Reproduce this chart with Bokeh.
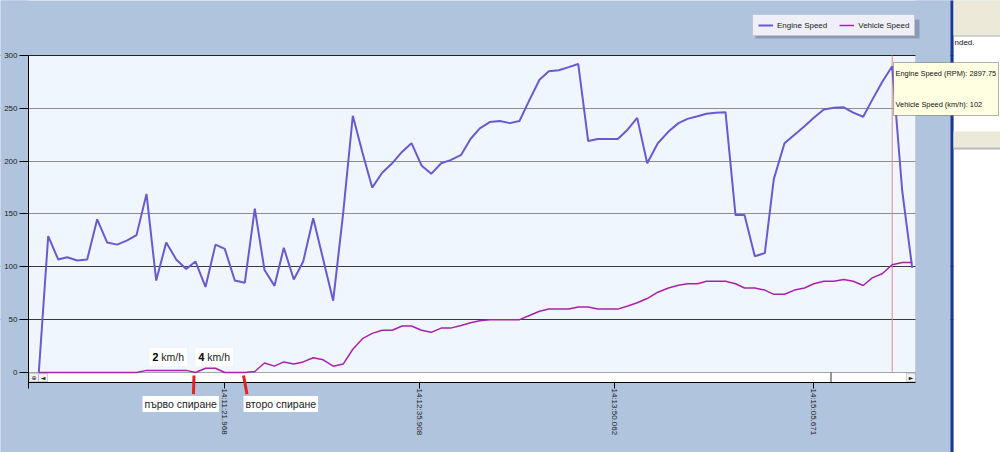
import math
from bokeh.plotting import figure
from bokeh.models import Range1d, FixedTicker, Grid, BoxAnnotation, Label, Arrow
from bokeh.embed import file_html
from bokeh.resources import INLINE

# ---------------- data ----------------
# sample time in seconds after 14:10:00
time_s = [11.44, 15.01, 18.81, 22.23, 26.03, 29.82, 33.62, 37.42, 41.22, 45.02,
          48.55, 52.35, 56.03, 59.83, 63.63, 67.42, 70.96, 74.75, 78.55, 82.08,
          85.88, 89.68, 93.48, 97.16, 100.96, 104.49, 108.29, 111.86, 115.66, 119.46,
          123.25, 127.05, 130.70, 134.38, 138.07, 141.86, 145.66, 149.46, 152.99, 156.79,
          160.47, 164.27, 167.80, 171.87, 175.40, 178.93, 182.73, 186.53, 190.33, 194.01,
          197.81, 201.61, 205.14, 208.94, 212.73, 216.31, 220.10, 223.75, 227.55, 231.35,
          235.14, 238.71, 242.51, 246.54, 250.60, 254.40, 257.82, 261.62, 265.03, 268.45,
          272.25, 276.05, 279.47, 283.38, 287.18, 290.59, 294.66, 298.46, 302.25, 305.79,
          309.58, 313.38, 317.18, 320.75, 324.55, 327.97, 331.76, 335.56, 339.36, 343.16]

# engine speed (RPM / 10)
engine_speed = [0, 129, 107, 109, 106, 107, 145, 123, 121, 125,
                130, 169, 87, 123, 107, 98, 105, 81, 121, 117,
                87, 85, 155, 97, 82, 118, 88, 105, 146, 107,
                68, 151, 243, 208, 175, 189, 198, 209, 217, 196,
                188, 198, 201, 206, 221, 231, 237, 238, 236, 238,
                258, 277, 285, 286, 289, 292, 219, 221, 221, 221,
                230, 241, 198, 217, 228, 236, 240, 242.5, 244.8, 245.8,
                246.4, 149, 149, 110, 113, 183, 217, 225, 233, 241,
                249, 250.5, 251, 246, 242, 258, 275, 289.775, 172, 99]

# vehicle speed (km/h)
vehicle_speed = [0, 0, 0, 0, 0, 0, 0, 0, 0, 0,
                 0, 2, 2, 2, 2, 2, 0, 4, 4, 0,
                 0, 0, 1, 9, 6, 10, 8, 10, 14, 12,
                 6, 8, 22, 32, 37, 40, 40, 44, 44, 40,
                 38, 42, 42, 44.5, 47, 49, 50, 50, 50, 50,
                 54, 58, 60, 60, 60, 62, 62, 60, 60, 60,
                 63, 66, 70, 76, 80, 82.5, 84, 84, 86.4, 86.4,
                 86.4, 84, 80, 80, 78, 74, 74, 78, 80, 84,
                 86.4, 86.4, 88, 86.4, 82.3, 89.6, 93.4, 102, 104, 104]

tick_times = [81.968, 155.908, 230.062, 305.671]
tick_labels = ["14:11:21.968", "14:12:35.908", "14:13:50.062", "14:15:05.671"]
y_ticks = [0, 50, 100, 150, 200, 250, 300]
light_grid = [150, 200, 250]
dark_grid = [50, 100]
cursor_index = 87

# visible window of the chart (time range and value range of the plot area)
plot_t0, plot_t1 = 7.524, 344.41
plot_v0, plot_v1 = -9.46, 300

FONT = "Liberation Sans"
PANEL = "#B0C4DE"

p = figure(width=1000, height=452, output_backend="svg", toolbar_location=None,
           x_range=Range1d(-3.107, 376.694), y_range=Range1d(-75.71, 352.05),
           min_border_left=0, min_border_right=0, min_border_top=0, min_border_bottom=0,
           background_fill_color=PANEL, border_fill_color=PANEL, outline_line_color=None)

# ---- axes (fixed inside the canvas) ----
p.xaxis.fixed_location = plot_v0
p.xaxis.bounds = (plot_t0, plot_t1)
p.xaxis.ticker = FixedTicker(ticks=tick_times)
p.xaxis.major_label_overrides = dict(zip(tick_times, tick_labels))
p.xaxis.major_label_orientation = -math.pi / 2
p.xaxis.major_tick_out = 6
p.xaxis.major_tick_in = 0
p.xaxis.minor_tick_out = 0
p.xaxis.minor_tick_in = 0
p.xaxis.major_label_standoff = 0
p.xaxis.axis_line_color = "black"
p.xaxis.major_tick_line_color = "black"
p.xaxis.major_label_text_font = FONT
p.xaxis.major_label_text_font_size = "8px"
p.xaxis.major_label_text_color = "#222222"

p.yaxis.fixed_location = plot_t0
p.yaxis.bounds = (-15.1, plot_v1)
p.yaxis.ticker = FixedTicker(ticks=y_ticks)
p.yaxis.major_tick_out = 9
p.yaxis.major_tick_in = 0
p.yaxis.minor_tick_out = 0
p.yaxis.minor_tick_in = 0
p.yaxis.major_label_standoff = 2
p.yaxis.axis_line_color = "black"
p.yaxis.major_tick_line_color = "black"
p.yaxis.major_label_text_font = FONT
p.yaxis.major_label_text_font_size = "8px"
p.yaxis.major_label_text_color = "#222222"

p.xgrid.visible = False
p.ygrid.visible = False


def sbox(l, r, b, t, color, level="underlay", line=None):
    p.add_layout(BoxAnnotation(left=l, right=r, bottom=b, top=t, left_units="screen",
                               right_units="screen", top_units="screen", bottom_units="screen",
                               fill_color=color, fill_alpha=1 if color else 0,
                               line_color=line, line_width=1, level=level))


# plot area background
p.add_layout(BoxAnnotation(left=plot_t0, right=plot_t1, bottom=0, top=plot_v1,
                           fill_color="#EFF6FE", fill_alpha=1, line_color=None, level="underlay"))
# grid lines
p.add_layout(Grid(dimension=1, ticker=FixedTicker(ticks=light_grid), grid_line_color="#8E8E8E"))
p.add_layout(Grid(dimension=1, ticker=FixedTicker(ticks=dark_grid), grid_line_color="#3A3A3A"))
p.add_layout(Grid(dimension=1, ticker=FixedTicker(ticks=[y_ticks[-1]]), grid_line_color="#222222"))

# scrollbar strip under the plot
sbox(28, 915, 70, 80, "white", line="black")
for l, r in [(29, 38), (38, 47), (906, 915)]:
    sbox(l, r, 71, 79, "#F2F2F2", line="#707070")
sbox(830, 831, 70, 80, "#333333")

# panel edges around the plot area (hide grid line ends)
sbox(0, 28, -10, 462, PANEL)
sbox(915, 950, -10, 462, PANEL)

# legend drop shadow
sbox(755, 919, 414, 433, "#8A9AB4")

# neighbouring window on the right
sbox(953, 1010, -10, 462, "white")
sbox(950, 953, -10, 462, "#1B3794")
sbox(953, 1010, 417, 462, "#ECE9D8")
sbox(953, 1010, 416, 417, "#A8A8A8")
sbox(953, 1010, 305, 321, "#ECE9D8")
sbox(953, 1010, 303, 305, "#B8B8B8")
p.add_layout(Label(x=954, y=410, x_units="screen", y_units="screen", text="nded.",
                   text_font=FONT, text_font_size="8px", text_baseline="middle",
                   text_color="#111111"))

for sx, txt in [(33.5, "⊕"), (42.5, "◄"), (910.5, "►")]:
    p.add_layout(Label(x=sx, y=75, x_units="screen", y_units="screen", text=txt,
                       text_font="DejaVu Sans", text_font_size="6px", text_align="center",
                       text_baseline="middle", text_color="#222222"))

# cursor line at the hovered sample
p.segment(x0=[time_s[cursor_index]], y0=[y_ticks[0]], x1=[time_s[cursor_index]],
          y1=[y_ticks[-1]], line_color="#E58A8A", line_width=1)

# data lines
p.line(time_s, engine_speed, line_color="#6A5ACD", line_width=2, legend_label="Engine Speed")
p.line(time_s, vehicle_speed, line_color="#AA22AA", line_width=1.5, legend_label="Vehicle Speed")

lg = p.legend[0]
lg.location = (752, 416)
lg.orientation = "horizontal"
lg.label_text_font = FONT
lg.label_text_font_size = "8px"
lg.label_text_color = "#222222"
lg.glyph_width = 15
lg.glyph_height = 10
lg.label_height = 10
lg.label_standoff = 4
lg.spacing = 12
lg.padding = 5
lg.margin = 0
lg.background_fill_color = "#EFEFF7"
lg.background_fill_alpha = 1
lg.border_line_color = "#9A9AB4"
lg.border_line_width = 1

# speed notes
for x, digit in [(53.48, "2"), (70.96, "4")]:
    p.add_layout(Label(x=x, y=14.7, text=f"{digit} km/h", text_font=FONT, text_font_size="10.5px",
                       text_align="left", text_baseline="middle", text_color="#222222",
                       background_fill_color="white", background_fill_alpha=1, padding=3))
    p.add_layout(Label(x=x, y=14.7, text=digit, text_font=FONT, text_font_size="10.5px",
                       text_font_style="bold", text_align="left", text_baseline="middle",
                       text_color="#111111", padding=3))

# stop markers and captions
for xs, xe in [(70.38, 70.19), (89.19, 90.51)]:
    p.add_layout(Arrow(end=None, x_start=xs, y_start=-2.8, x_end=xe, y_end=-20.5,
                       line_color="#E02424", line_width=3))
for x, txt in [(50.83, "първо спиране"), (89.19, "второ спиране")]:
    p.add_layout(Label(x=x, y=-29.8, text=txt, text_font=FONT, text_font_size="10.5px",
                       text_align="left", text_baseline="middle", text_color="#222222",
                       background_fill_color="white", background_fill_alpha=1, padding=2))

# tooltip at the cursor
sbox(893, 998, 337, 390, "#FFFFE1", level="annotation", line="black")
tip1 = f"Engine Speed (RPM): {engine_speed[cursor_index] * 10:.2f}"
tip2 = f"Vehicle Speed (km/h): {vehicle_speed[cursor_index]:g}"
for sy, txt in [(379, tip1), (348, tip2)]:
    p.add_layout(Label(x=895, y=sy, x_units="screen", y_units="screen", text=txt,
                       text_font=FONT, text_font_size="7.4px", text_baseline="middle",
                       text_color="#111111"))

open("out.html", "w").write(file_html(p, INLINE))
